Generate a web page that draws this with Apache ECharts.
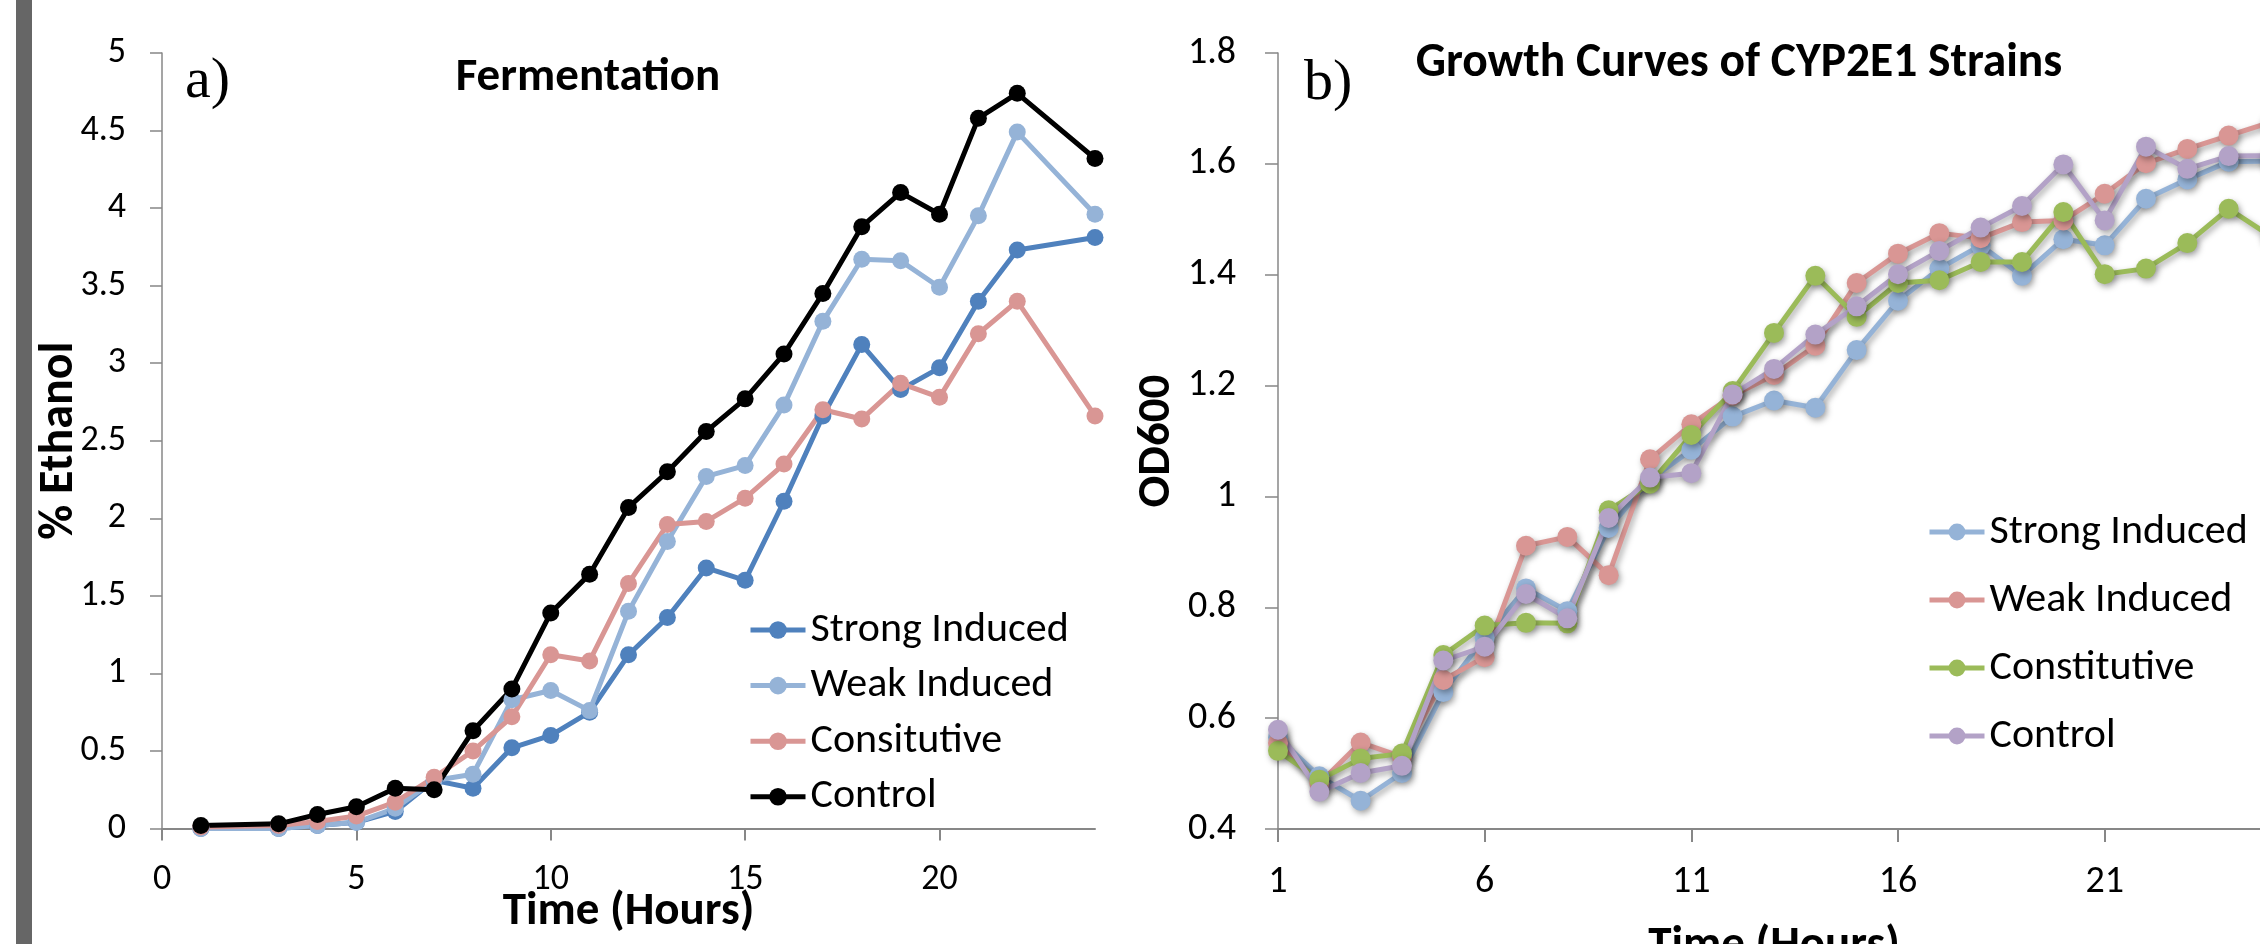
<!DOCTYPE html>
<html>
<head>
<meta charset="utf-8">
<script src="https://cdn.jsdelivr.net/npm/echarts@6/dist/echarts.min.js"></script>
<style>
  html, body { margin: 0; padding: 0; background: #fff; }
  #chart { width: 2260px; height: 944px; }
</style>
</head>
<body>
<div id="chart"></div>
<script>
// ---------- Panel a) Fermentation ----------
const fermHours = [1, 3, 4, 5, 6, 7, 8, 9, 10, 11, 12, 13, 14, 15, 16, 17, 18, 19, 20, 21, 22, 24];
const fermStrong = [0.00, 0.00, 0.02, 0.04, 0.11, 0.31, 0.26, 0.52, 0.60, 0.75, 1.12, 1.36, 1.68, 1.60, 2.11, 2.66, 3.12, 2.83, 2.97, 3.40, 3.73, 3.81];
const fermWeak = [0.00, 0.00, 0.02, 0.04, 0.13, 0.31, 0.35, 0.83, 0.89, 0.76, 1.40, 1.85, 2.27, 2.34, 2.73, 3.27, 3.67, 3.66, 3.49, 3.95, 4.49, 3.96];
const fermConsit = [0.01, 0.02, 0.045, 0.08, 0.17, 0.33, 0.50, 0.72, 1.12, 1.08, 1.58, 1.96, 1.98, 2.13, 2.35, 2.70, 2.64, 2.87, 2.78, 3.19, 3.40, 2.66];
const fermControl = [0.02, 0.03, 0.09, 0.14, 0.26, 0.25, 0.63, 0.90, 1.39, 1.64, 2.07, 2.30, 2.56, 2.77, 3.06, 3.45, 3.88, 4.10, 3.96, 4.58, 4.74, 4.32];
const fermXTicks = [0, 5, 10, 15, 20];
const fermNames = ['Strong Induced', 'Weak Induced', 'Consitutive', 'Control'];

// ---------- Panel b) Growth curves ----------
const growthHours = ['1','2','3','4','5','6','7','8','9','10','11','12','13','14','15','16','17','18','19','20','21','22','23','24','25'];
const growthStrong = [0.565, 0.495, 0.451, 0.501, 0.647, 0.745, 0.834, 0.793, 0.943, 1.030, 1.084, 1.144, 1.173, 1.160, 1.264, 1.353, 1.411, 1.453, 1.398, 1.464, 1.453, 1.537, 1.572, 1.604, 1.605];
const growthWeak = [0.555, 0.482, 0.556, 0.530, 0.669, 0.710, 0.911, 0.927, 0.858, 1.067, 1.130, 1.182, 1.219, 1.272, 1.385, 1.438, 1.475, 1.466, 1.495, 1.498, 1.546, 1.601, 1.627, 1.651, 1.675];
const growthConst = [0.541, 0.489, 0.527, 0.536, 0.714, 0.767, 0.772, 0.771, 0.975, 1.023, 1.111, 1.190, 1.295, 1.398, 1.324, 1.385, 1.390, 1.423, 1.423, 1.513, 1.401, 1.411, 1.457, 1.519, 1.470];
const growthControl = [0.579, 0.467, 0.501, 0.514, 0.704, 0.729, 0.824, 0.780, 0.961, 1.034, 1.042, 1.184, 1.230, 1.292, 1.343, 1.401, 1.443, 1.485, 1.524, 1.599, 1.498, 1.631, 1.591, 1.614, 1.615];
const growthNames = ['Strong Induced', 'Weak Induced', 'Constitutive', 'Control'];
const B = 'b:'; // internal prefix to keep panel b series names distinct

const FONT = 'Carlito, Calibri, Lato, sans-serif';
const AXIS_GRAY = '#878787';

const chart = echarts.init(document.getElementById('chart'), null, { renderer: 'canvas' });

function fermSeries(name, vals, color) {
  return {
    name: name, type: 'line', xAxisIndex: 0, yAxisIndex: 0,
    data: fermHours.map((h, i) => [h, vals[i]]),
    symbol: 'circle', symbolSize: 17,
    lineStyle: { color: color, width: 5 },
    itemStyle: { color: color },
    emphasis: { disabled: true }, silent: true
  };
}
const shadow = { shadowBlur: 6, shadowColor: 'rgba(0,0,0,0.35)', shadowOffsetX: 2, shadowOffsetY: 3 };
function growthSeries(name, vals, color) {
  return {
    name: B + name, type: 'line', xAxisIndex: 1, yAxisIndex: 1,
    data: vals,
    symbol: 'circle', symbolSize: 20,
    lineStyle: Object.assign({ color: color, width: 5 }, shadow),
    itemStyle: Object.assign({ color: color }, shadow),
    emphasis: { disabled: true }, silent: true
  };
}

const option = {
  animation: false,
  backgroundColor: '#ffffff',
  textStyle: { fontFamily: FONT },
  grid: [
    { left: 162, right: 2260 - 1095, top: 53, bottom: 944 - 828.5, containLabel: false, outerBoundsMode: 'none' },
    { left: 1278, right: -10, top: 53, bottom: 944 - 829, containLabel: false, outerBoundsMode: 'none' }
  ],
  xAxis: [
    {
      type: 'value', gridIndex: 0, min: 0, max: 24, interval: 5,
      axisLine: { show: true, onZero: false, lineStyle: { color: AXIS_GRAY, width: 2 } },
      axisTick: { show: true, inside: false, length: 12, customValues: fermXTicks, lineStyle: { color: AXIS_GRAY, width: 2 } },
      axisLabel: { customValues: fermXTicks, margin: 33, fontSize: 36, color: '#000', fontFamily: FONT },
      splitLine: { show: false },
      name: 'Time (Hours)', nameLocation: 'middle', nameGap: 60, nameMoveOverlap: false,
      nameTextStyle: { fontSize: 47, fontWeight: 'bold', color: '#000', fontFamily: FONT }
    },
    {
      type: 'category', gridIndex: 1, data: growthHours, boundaryGap: false,
      axisLine: { show: true, onZero: false, lineStyle: { color: AXIS_GRAY, width: 2 } },
      axisTick: { show: true, inside: false, length: 13, interval: 4, lineStyle: { color: AXIS_GRAY, width: 2 } },
      axisLabel: { interval: 4, margin: 34, fontSize: 38, color: '#000', fontFamily: FONT },
      splitLine: { show: false },
      name: 'Time (Hours)', nameLocation: 'middle', nameGap: 94, nameMoveOverlap: false,
      nameTextStyle: { fontSize: 47, fontWeight: 'bold', color: '#000', fontFamily: FONT }
    }
  ],
  yAxis: [
    {
      type: 'value', gridIndex: 0, min: 0, max: 5, interval: 0.5,
      axisLine: { show: true, lineStyle: { color: AXIS_GRAY, width: 1.5 } },
      axisTick: { show: true, inside: false, length: 12, lineStyle: { color: AXIS_GRAY, width: 1.5 } },
      axisLabel: { margin: 36, fontSize: 36, color: '#000', fontFamily: FONT },
      splitLine: { show: false },
      name: '% Ethanol', nameLocation: 'middle', nameGap: 78, nameRotate: 90, nameMoveOverlap: false,
      nameTextStyle: { fontSize: 48, fontWeight: 'bold', color: '#000', fontFamily: FONT }
    },
    {
      type: 'value', gridIndex: 1, min: 0.4, max: 1.8, interval: 0.2,
      axisLine: { show: true, lineStyle: { color: AXIS_GRAY, width: 1.5 } },
      axisTick: { show: true, inside: false, length: 13, lineStyle: { color: AXIS_GRAY, width: 1.5 } },
      axisLabel: { margin: 42, fontSize: 38, color: '#000', fontFamily: FONT },
      splitLine: { show: false },
      name: 'OD600', nameLocation: 'middle', nameGap: 97, nameRotate: 90, nameMoveOverlap: false,
      nameTextStyle: { fontSize: 47, fontWeight: 'bold', color: '#000', fontFamily: FONT }
    }
  ],
  legend: [
    {
      data: fermNames, orient: 'vertical', left: 748, top: 609, padding: 0,
      itemWidth: 55, itemHeight: 22, itemGap: 13.6,
      lineStyle: { width: 5 },
      textStyle: { fontSize: 42, lineHeight: 42, color: '#000', fontFamily: FONT },
      selectedMode: false
    },
    {
      data: growthNames.map(n => B + n), orient: 'vertical', left: 1927, top: 511, padding: 0,
      itemWidth: 55, itemHeight: 21, itemGap: 26,
      lineStyle: { width: 5 },
      formatter: n => n.replace(B, ''),
      textStyle: { fontSize: 42, lineHeight: 42, color: '#000', fontFamily: FONT },
      selectedMode: false
    }
  ],
  graphic: [
    { type: 'rect', left: 16, top: 0, shape: { width: 16, height: 944 }, style: { fill: '#666666' }, silent: true },
    { type: 'text', x: 185, y: 82, style: { text: 'a)', font: '58px "Liberation Serif", "Times New Roman", serif', fill: '#000', textVerticalAlign: 'middle' }, silent: true },
    { type: 'text', x: 1304, y: 84, style: { text: 'b)', font: '58px "Liberation Serif", "Times New Roman", serif', fill: '#000', textVerticalAlign: 'middle' }, silent: true },
    { type: 'text', x: 588, y: 78, style: { text: 'Fermentation', font: 'bold 47px ' + FONT, fill: '#000', textAlign: 'center', textVerticalAlign: 'middle' }, silent: true },
    { type: 'text', x: 1739, y: 64, style: { text: 'Growth Curves of CYP2E1 Strains', font: 'bold 47.5px ' + FONT, fill: '#000', textAlign: 'center', textVerticalAlign: 'middle' }, silent: true }
  ],
  series: [
    fermSeries(fermNames[0], fermStrong, '#4F81BD'),
    fermSeries(fermNames[1], fermWeak, '#95B3D7'),
    fermSeries(fermNames[2], fermConsit, '#D99694'),
    fermSeries(fermNames[3], fermControl, '#000000'),
    growthSeries(growthNames[0], growthStrong, '#95B3D7'),
    growthSeries(growthNames[1], growthWeak, '#D99694'),
    growthSeries(growthNames[2], growthConst, '#9BBB59'),
    growthSeries(growthNames[3], growthControl, '#B3A2C7')
  ]
};
chart.setOption(option);
</script>
</body>
</html>
